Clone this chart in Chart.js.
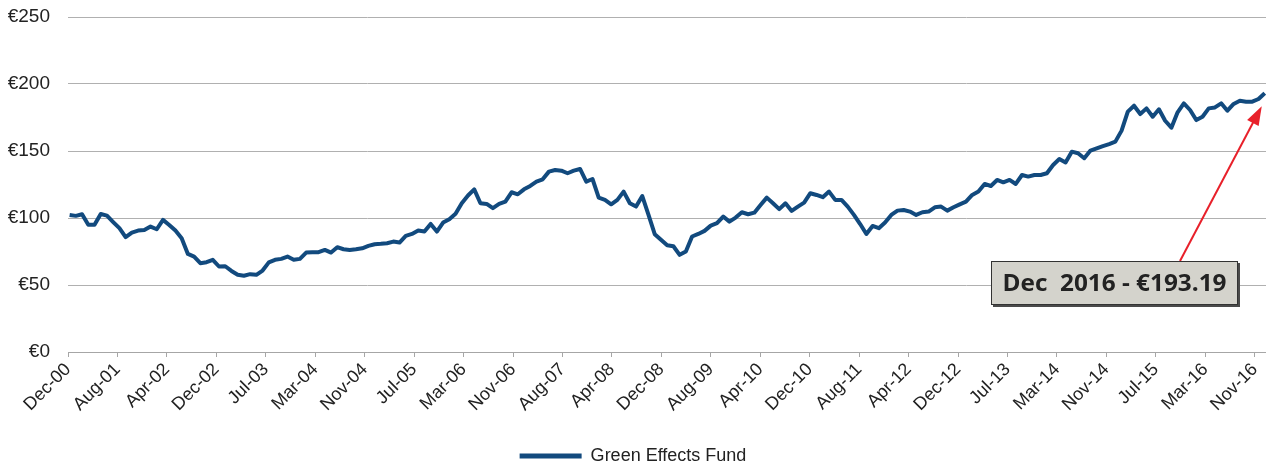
<!DOCTYPE html>
<html>
<head>
<meta charset="utf-8">
<script src="https://cdn.jsdelivr.net/npm/chart.js@4.4.1/dist/chart.umd.min.js"></script>
<style>
  html, body { margin: 0; padding: 0; background: #fff; overflow: hidden; }
  #wrap { width: 1266px; height: 475px; position: relative; }
</style>
</head>
<body>
<div id="wrap"><canvas id="fundChart"></canvas></div>
<script>
// monthly values, Dec-00 .. Dec-16
const fundValues = [
  102.3, 101.6, 102.8, 94.9, 94.9, 103.0, 101.8, 97.0, 92.4, 85.7,
  89.1, 90.6, 91.0, 93.6, 91.6, 98.6, 94.8, 90.6, 84.9, 73.2,
  71.2, 66.3, 67.0, 68.8, 63.8, 64.0, 60.5, 57.6, 56.9, 58.1,
  57.6, 60.8, 66.9, 68.8, 69.5, 71.2, 68.8, 69.5, 74.2, 74.5,
  74.5, 76.2, 74.2, 78.2, 76.7, 76.2, 76.7, 77.4, 79.2, 80.4,
  80.7, 81.2, 82.4, 81.7, 86.7, 88.1, 90.6, 89.9, 95.6, 89.9,
  96.6, 99.1, 103.1, 111.0, 116.8, 121.4, 111.0, 110.5, 107.3, 110.5,
  112.2, 119.2, 117.7, 121.4, 123.9, 127.1, 128.9, 134.6, 135.8, 135.3,
  133.4, 135.3, 136.6, 127.1, 129.1, 115.2, 113.5, 110.2, 113.5, 119.7,
  111.0, 108.5, 116.4, 102.3, 87.9, 83.7, 79.6, 78.9, 72.5, 75.0,
  86.2, 88.1, 90.4, 94.3, 96.1, 101.1, 97.3, 100.3, 104.3, 102.8,
  104.0, 109.7, 115.2, 111.0, 106.6, 111.0, 105.3, 108.5, 111.5, 118.5,
  117.2, 115.5, 119.7, 113.5, 113.5, 108.5, 102.3, 95.5, 88.1, 94.1,
  92.4, 96.6, 102.3, 105.5, 106.0, 104.8, 102.3, 104.3, 104.8, 108.0,
  108.5, 105.5, 108.0, 110.2, 112.2, 117.2, 119.7, 125.4, 123.9, 128.4,
  126.6, 128.4, 125.4, 132.1, 130.9, 132.1, 132.1, 133.4, 139.6, 144.0,
  141.5, 149.5, 148.3, 144.6, 150.3, 152.0, 153.7, 155.2, 157.0, 165.2,
  179.4, 183.8, 177.6, 181.8, 175.6, 181.1, 172.6, 167.4, 178.9, 185.6,
  180.6, 173.1, 175.6, 181.8, 182.5, 185.6, 180.1, 185.1, 187.5, 186.8,
  186.8, 188.8, 193.19
];

const tickLabels = [
  'Dec-00', 'Aug-01', 'Apr-02', 'Dec-02', 'Jul-03', 'Mar-04', 'Nov-04',
  'Jul-05', 'Mar-06', 'Nov-06', 'Aug-07', 'Apr-08', 'Dec-08', 'Aug-09',
  'Apr-10', 'Dec-10', 'Aug-11', 'Apr-12', 'Dec-12', 'Jul-13', 'Mar-14',
  'Nov-14', 'Jul-15', 'Mar-16', 'Nov-16'
];

const seriesName = 'Green Effects Fund';
const lastLabel = 'Dec  2016 - \u20ac193.19';

// ticks are spaced ~242 days apart (in months)
const tickStep = 7.944;
const tickStart = -0.26;

const lineColor = '#124a7e';
const labelFont = '"Liberation Sans", Arial, sans-serif';

const points = fundValues.map((v, i) => ({ x: i, y: v }));

// box + red arrow pointing at the last value
const calloutPlugin = {
  id: 'callout',
  afterDraw(chart) {
    const { ctx, chartArea, scales } = chart;
    const last = fundValues.length - 1;
    const px = scales.x.getPixelForValue(last);
    const py = scales.y.getPixelForValue(fundValues[last]);

    const bw = 247, bh = 44;
    const bx = chartArea.right - 275;
    const by = scales.y.getPixelForValue(50) - 24;

    ctx.save();
    // arrow
    const sx = bx + 189, sy = by;
    const tx = px - 3, ty = py + 13;
    const ang = Math.atan2(ty - sy, tx - sx);
    const c = Math.cos(ang), s = Math.sin(ang);
    ctx.strokeStyle = '#e8202a';
    ctx.fillStyle = '#e8202a';
    ctx.lineWidth = 2;
    ctx.beginPath();
    ctx.moveTo(sx, sy);
    ctx.lineTo(tx - 14 * c, ty - 14 * s);
    ctx.stroke();
    ctx.beginPath();
    ctx.moveTo(tx, ty);
    ctx.lineTo(tx - 19 * c + 6.5 * s, ty - 19 * s - 6.5 * c);
    ctx.lineTo(tx - 19 * c - 6.5 * s, ty - 19 * s + 6.5 * c);
    ctx.closePath();
    ctx.fill();

    // box with small shadow
    ctx.fillStyle = '#4a4a4a';
    ctx.fillRect(bx + 2, by + 2, bw, bh);
    ctx.fillStyle = '#d4d3cc';
    ctx.fillRect(bx, by, bw, bh);
    ctx.strokeStyle = '#333';
    ctx.lineWidth = 1;
    ctx.strokeRect(bx + 0.5, by + 0.5, bw - 1, bh - 1);

    // text, squeezed to the narrow look of the original
    ctx.font = 'bold 24px "Open Sans"';
    ctx.fillStyle = '#222';
    ctx.textBaseline = 'middle';
    const w = ctx.measureText(lastLabel).width;
    const target = 224;
    ctx.translate(bx + (bw - target) / 2, by + bh / 2 + 1);
    ctx.scale(target / w, 1);
    ctx.fillText(lastLabel, 0, 0);
    ctx.restore();
  }
};

const ctx = document.getElementById('fundChart').getContext('2d');
const chart = new Chart(ctx, {
  type: 'line',
  data: {
    datasets: [{
      label: seriesName,
      data: points,
      borderColor: lineColor,
      backgroundColor: lineColor,
      borderWidth: 4,
      pointRadius: 0,
      tension: 0,
      borderJoinStyle: 'round'
    }]
  },
  options: {
    responsive: true,
    maintainAspectRatio: false,
    animation: false,
    layout: { padding: { top: 17, right: 0, bottom: 0, left: 0 } },
    plugins: {
      tooltip: { enabled: false },
      legend: {
        position: 'bottom',
        labels: {
          boxWidth: 62,
          boxHeight: 5,
          padding: 4,
          color: '#222',
          font: { family: labelFont, size: 18 },
          generateLabels(chart) {
            return Chart.defaults.plugins.legend.labels.generateLabels(chart)
              .map(item => Object.assign(item, { lineWidth: 0 }));
          }
        }
      }
    },
    scales: {
      x: {
        type: 'linear',
        min: tickStart,
        max: 192.2,
        afterBuildTicks(scale) {
          scale.ticks = tickLabels.map((l, k) => ({ value: tickStart + k * tickStep }));
        },
        afterFit(scale) {
          scale.height = 91;
          scale.paddingLeft = 0;
          scale.paddingRight = 0;
        },
        ticks: {
          autoSkip: false,
          maxRotation: 45,
          minRotation: 45,
          padding: 2,
          color: '#222',
          font: { family: labelFont, size: 18 },
          callback: (v, i) => tickLabels[i]
        },
        grid: { drawOnChartArea: false, tickLength: 5, color: '#a6a6a6' },
        border: { color: '#a6a6a6' }
      },
      y: {
        min: 0,
        max: 250,
        afterFit(scale) {
          scale.width = 68;
          scale.paddingTop = 0;
          scale.paddingBottom = 0;
        },
        ticks: {
          stepSize: 50,
          padding: 18,
          color: '#222',
          font: { family: labelFont, size: 19 },
          callback: v => '\u20ac' + v
        },
        grid: { color: '#b0b0b0', drawTicks: false },
        border: { display: false }
      }
    }
  },
  plugins: [calloutPlugin]
});
</script>
</body>
</html>
